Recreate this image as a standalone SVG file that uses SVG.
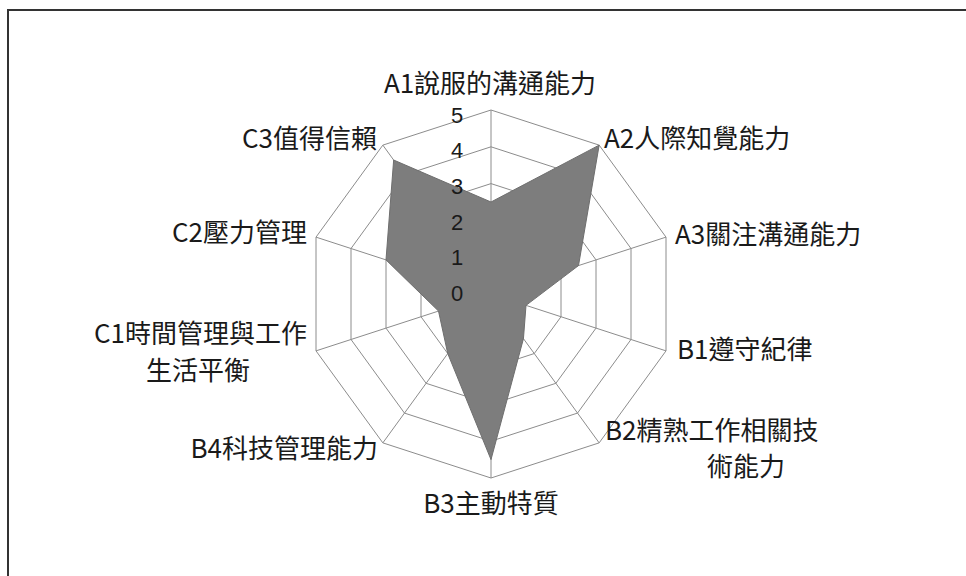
<svg xmlns="http://www.w3.org/2000/svg" width="966" height="576" viewBox="0 0 966 576">
<style>
.grid{fill:none;stroke:#8c8c8c;stroke-width:1}
.lbl{font-family:"Noto Sans CJK TC","Noto Sans",sans-serif;font-size:26px;fill:#1a1a1a}
.tick{font-family:"Liberation Sans","Noto Sans",sans-serif;font-size:22px;fill:#1a1a1a;text-anchor:middle;dominant-baseline:central}
</style>
<rect x="0" y="0" width="966" height="576" fill="#ffffff"/>
<g id="frame"><polyline points="8,576 8,10 966,10" fill="none" stroke="#333" stroke-width="2"/></g>
<g id="grid">
<polygon class="grid" points="491,110 599.16,145.14 666,237.14 666,350.86 599.16,442.86 491,478 382.84,442.86 316,350.86 316,237.14 382.84,145.14"/>
<polygon class="grid" points="491,146.8 577.52,174.92 631,248.52 631,339.48 577.52,413.08 491,441.2 404.48,413.08 351,339.48 351,248.52 404.48,174.92"/>
<polygon class="grid" points="491,183.6 555.89,204.69 596,259.89 596,328.11 555.89,383.31 491,404.4 426.11,383.31 386,328.11 386,259.89 426.11,204.69"/>
<polygon class="grid" points="491,220.4 534.26,234.46 561,271.26 561,316.74 534.26,353.54 491,367.6 447.74,353.54 421,316.74 421,271.26 447.74,234.46"/>
<polygon class="grid" points="491,257.2 512.63,264.23 526,282.63 526,305.37 512.63,323.77 491,330.8 469.37,323.77 456,305.37 456,282.63 469.37,264.23"/>
<path class="grid" d="M491,294L491,110M491,294L599.16,145.14M491,294L666,237.14M491,294L666,350.86M491,294L599.16,442.86M491,294L491,478M491,294L382.84,442.86M491,294L316,350.86M491,294L316,237.14M491,294L382.84,145.14"/>
</g>
<g id="data">
<polygon points="491,202 599.16,145.14 578.5,265.57 526,305.37 523.45,338.66 491,459.6 447.74,353.54 438.5,311.06 386,259.89 393.66,160.03" fill="#7d7d7d" stroke="#6e6e6e" stroke-width="1"/>
</g>
<g id="ticks">
<text class="tick" x="457" y="115">5</text>
<text class="tick" x="457" y="150">4</text>
<text class="tick" x="457" y="186">3</text>
<text class="tick" x="457" y="222">2</text>
<text class="tick" x="457" y="257">1</text>
<text class="tick" x="457" y="293">0</text>
</g>
<g id="labels">
<text id="A1" class="lbl" x="490" y="93" text-anchor="middle">A1說服的溝通能力</text>
<text id="A2" class="lbl" x="604" y="148">A2人際知覺能力</text>
<text id="A3" class="lbl" x="675" y="244">A3關注溝通能力</text>
<text id="B1" class="lbl" x="677" y="359">B1遵守紀律</text>
<text id="B2" class="lbl" x="605" y="440">B2精熟工作相關技<tspan x="707" y="476">術能力</tspan></text>
<text id="B3" class="lbl" x="491" y="513" text-anchor="middle">B3主動特質</text>
<text id="B4" class="lbl" x="378" y="458" text-anchor="end">B4科技管理能力</text>
<text id="C1" class="lbl" x="307" y="343" text-anchor="end">C1時間管理與工作<tspan x="250" y="380">生活平衡</tspan></text>
<text id="C2" class="lbl" x="307" y="242" text-anchor="end">C2壓力管理</text>
<text id="C3" class="lbl" x="377" y="148" text-anchor="end">C3值得信賴</text>
</g>
</svg>
